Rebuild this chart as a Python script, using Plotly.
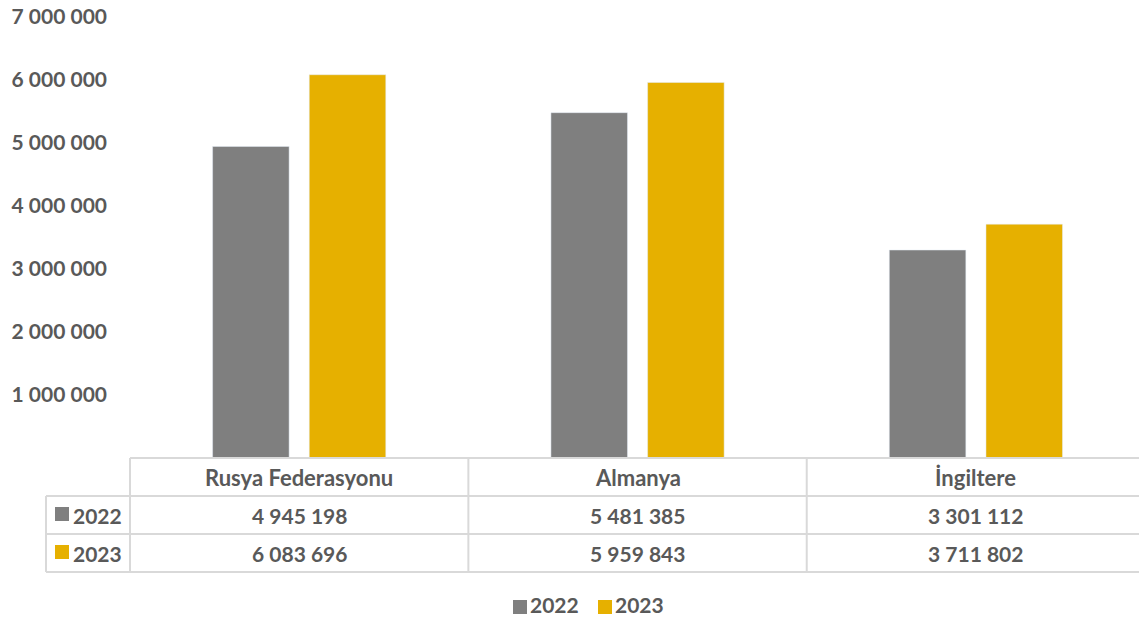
import plotly.graph_objects as go

categories = ["Rusya Federasyonu", "Almanya", "İngiltere"]
series_names = ["2022", "2023"]
values_2022 = [4945198, 5481385, 3301112]
values_2023 = [6083696, 5959843, 3711802]
y_ticks = [1000000, 2000000, 3000000, 4000000, 5000000, 6000000, 7000000]
y_tick_labels = ["1 000 000", "2 000 000", "3 000 000", "4 000 000", "5 000 000", "6 000 000", "7 000 000"]

GRAY = "#7F7F7F"
GOLD = "#E6B000"
TEXT = "#595959"
LINE = "#D9D9D9"
FONT = "Lato"
FS = 21

W, H = 1139, 618
L, R, T, B = 130, 0, 17, 160
PH = H - T - B  # plot height in px
PW = W - L - R


def py(p):
    """pixel y -> paper y"""
    return (H - B - p) / PH


def px(p):
    """pixel x -> paper x"""
    return (p - L) / PW


def fmt(v):
    return f"{v:,}".replace(",", " ")


fig = go.Figure()
fig.add_trace(go.Bar(x=categories, y=values_2022, name=series_names[0], marker_color=GRAY))
fig.add_trace(go.Bar(x=categories, y=values_2023, name=series_names[1], marker_color=GOLD))

shapes = []
line = dict(color=LINE, width=2)
# horizontal table lines
shapes.append(dict(type="line", xref="paper", yref="paper", x0=0, x1=1, y0=py(458), y1=py(458), line=line))
for yy in (496, 534, 572):
    shapes.append(dict(type="line", xref="paper", yref="paper", x0=px(46), x1=1, y0=py(yy), y1=py(yy), line=line))
# vertical lines
shapes.append(dict(type="line", xref="paper", yref="paper", x0=px(46), x1=px(46), y0=py(496), y1=py(572), line=line))
shapes.append(dict(type="line", xref="paper", yref="paper", x0=0, x1=0, y0=py(458), y1=py(572), line=line))
for xx in (0.5, 1.5):
    shapes.append(dict(type="line", xref="x", yref="paper", x0=xx, x1=xx, y0=py(458), y1=py(572), line=line))
# legend keys in table
for yy, col in ((507, GRAY), (545, GOLD)):
    shapes.append(dict(type="rect", xref="paper", yref="paper", x0=px(55), x1=px(69),
                       y0=py(yy), y1=py(yy + 14), fillcolor=col, line=dict(width=0)))
# bottom legend keys
for xx, col in ((513, GRAY), (598, GOLD)):
    shapes.append(dict(type="rect", xref="paper", yref="paper", x0=px(xx), x1=px(xx + 14),
                       y0=py(600), y1=py(614), fillcolor=col, line=dict(width=0)))

annos = []
font = dict(family=FONT, size=FS, color=TEXT, weight="bold")
hfont = dict(family=FONT, size=22, color=TEXT, weight="bold")
for i, c in enumerate(categories):
    annos.append(dict(x=i, y=py(477), xref="x", yref="paper", text=c, showarrow=False, font=hfont,
                      xanchor="center", yanchor="middle"))
    annos.append(dict(x=i, y=py(515), xref="x", yref="paper", text=fmt(values_2022[i]), showarrow=False,
                      font=font, xanchor="center", yanchor="middle"))
    annos.append(dict(x=i, y=py(553), xref="x", yref="paper", text=fmt(values_2023[i]), showarrow=False,
                      font=font, xanchor="center", yanchor="middle"))
for yy, name in ((515, series_names[0]), (553, series_names[1])):
    annos.append(dict(x=px(73), y=py(yy), xref="paper", yref="paper", text=name, showarrow=False, font=font,
                      xanchor="left", yanchor="middle", xshift=-2))
# bottom legend labels
for xx, name in ((531, series_names[0]), (616, series_names[1])):
    annos.append(dict(x=px(xx), y=py(604), xref="paper", yref="paper", text=name, showarrow=False, font=font,
                      xanchor="left", yanchor="middle", xshift=-2, borderpad=0))

fig.update_layout(
    width=W, height=H,
    margin=dict(l=L, r=R, t=T, b=B, autoexpand=False),
    paper_bgcolor="white", plot_bgcolor="white",
    barmode="group", bargap=0.4286, bargroupgap=0.2083,
    font=font,
    showlegend=False,
    shapes=shapes, annotations=annos,
    xaxis=dict(range=[-0.5, 2.482], showticklabels=False, showline=False, showgrid=False, zeroline=False,
               ticks=""),
    yaxis=dict(range=[0, 7000000], tickvals=y_ticks, ticktext=y_tick_labels, showgrid=False,
               zeroline=False, showline=False, ticks="", ticklabelstandoff=22,
               tickfont=font),
)

fig.write_html("out.html")
